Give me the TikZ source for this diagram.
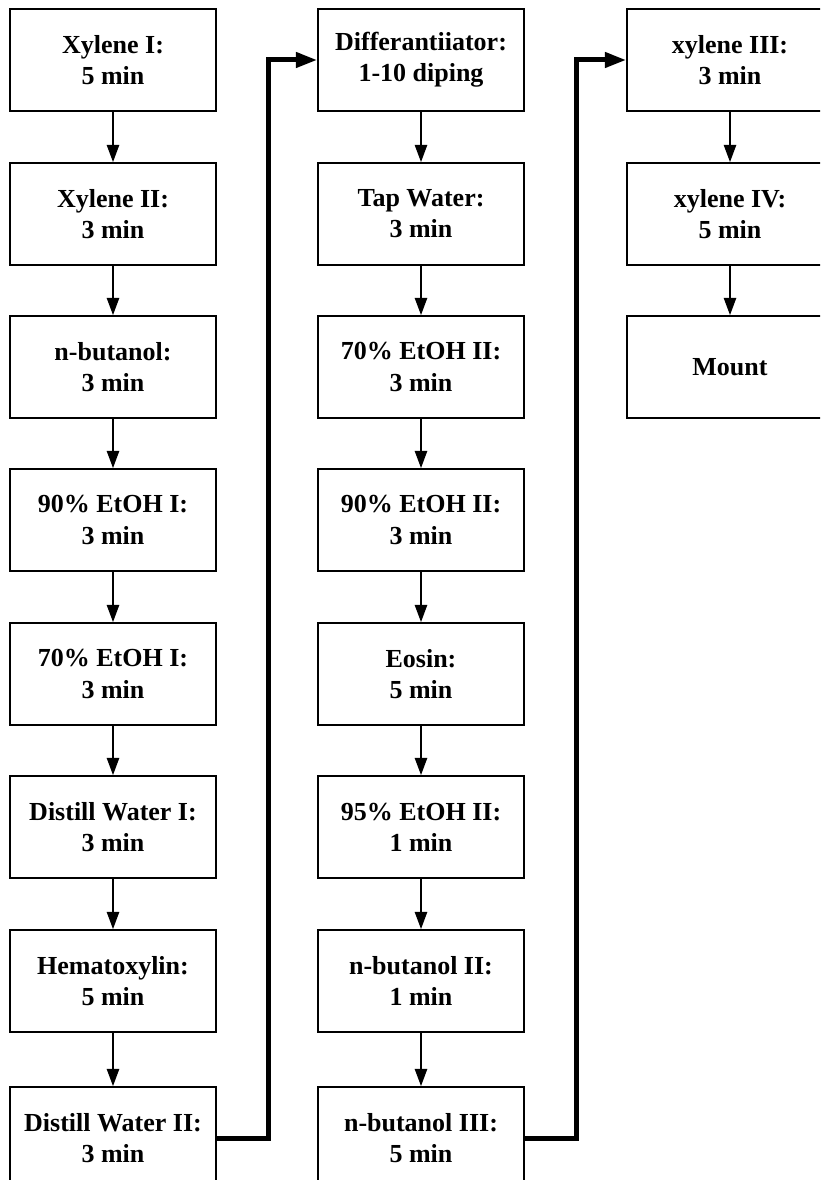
\documentclass[tikz,border=0pt]{standalone}
\usepackage{fontspec}
\setmainfont{Liberation Serif}
\usetikzlibrary{arrows.meta}
\tikzset{
	stepbox/.style={rectangle,draw,line width=1.1pt,fill=white,minimum width=154.5pt,minimum height=76.5pt,inner sep=0pt,align=center,font=\fontsize{19.5}{23.3}\selectfont\bfseries},
	diredge/.style={-{Triangle[width=9pt,length=13pt]},line width=1.9pt},
	jumpedge/.style={-{Triangle[width=11pt,length=16pt]},line width=3.75pt}
}

\begin{document}
\begin{tikzpicture}[x=0.75pt,y=-0.75pt]
		\useasboundingbox (0,0) rectangle (820,1180);
		\clip (0,0) rectangle (820,1180);

		% first column
		\node [stepbox] (0) at (113, 60) {Xylene I:\\5 min};
		\node [stepbox] (1) at (113, 214) {Xylene II:\\3 min};
		\node [stepbox] (2) at (113, 367) {n-butanol:\\3 min};
		\node [stepbox] (3) at (113, 520) {90\% EtOH I:\\3 min};
		\node [stepbox] (4) at (113, 674) {70\% EtOH I:\\3 min};
		\node [stepbox] (5) at (113, 827) {Distill Water I:\\3 min};
		\node [stepbox] (6) at (113, 981) {Hematoxylin:\\5 min};
		\node [stepbox] (7) at (113, 1138) {Distill Water II:\\3 min};

		% second column
		\node [stepbox] (8) at (421, 60) {Differantiiator:\\1-10 diping};
		\node [stepbox] (9) at (421, 214) {Tap Water:\\3 min};
		\node [stepbox] (10) at (421, 367) {70\% EtOH II:\\3 min};
		\node [stepbox] (11) at (421, 520) {90\% EtOH II:\\3 min};
		\node [stepbox] (12) at (421, 674) {Eosin:\\5 min};
		\node [stepbox] (13) at (421, 827) {95\% EtOH II:\\1 min};
		\node [stepbox] (14) at (421, 981) {n-butanol II:\\1 min};
		\node [stepbox] (15) at (421, 1138) {n-butanol III:\\5 min};

		% third column
		\node [stepbox] (16) at (730, 60) {xylene III:\\3 min};
		\node [stepbox] (17) at (730, 214) {xylene IV:\\5 min};
		\node [stepbox] (18) at (730, 367) {Mount};

		\foreach \a/\b in {0/1,1/2,2/3,3/4,4/5,5/6,6/7,8/9,9/10,10/11,11/12,12/13,13/14,14/15,16/17,17/18}
			\draw [diredge] (\a) to (\b);

		\draw [jumpedge] (7.east) -- ++(52,0) |- (8.west);
		\draw [jumpedge] (15.east) -- ++(52,0) |- (16.west);
\end{tikzpicture}
\end{document}
